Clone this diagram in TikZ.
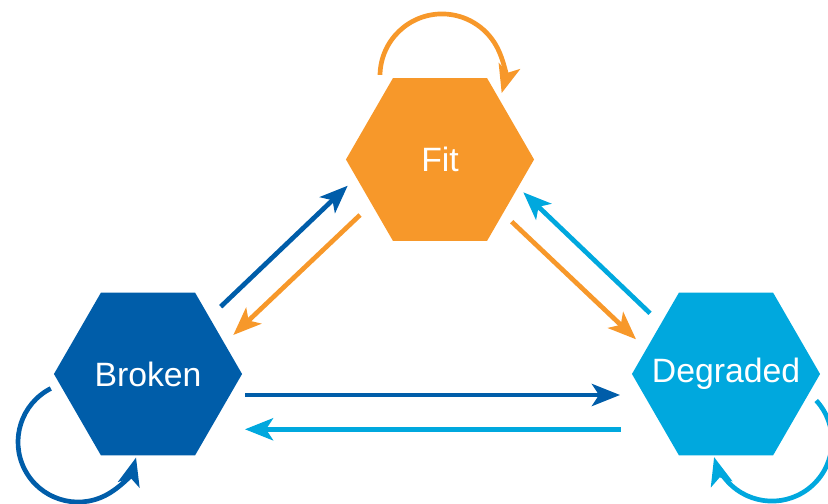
\documentclass[tikz,border=0pt]{standalone}
\usepackage{fontspec}
\setmainfont{Liberation Sans}
\usetikzlibrary{shapes.geometric,arrows.meta}

\definecolor{stOrange}{HTML}{F7982A}
\definecolor{stBlue}{HTML}{005DA9}
\definecolor{stCyan}{HTML}{00A8DE}

\begin{document}
\begin{tikzpicture}[x=0.01cm,y=-0.01cm,font=\fontsize{9.6}{11}\selectfont,
  hexstate/.style={regular polygon,regular polygon sides=6,minimum size=1.88cm,inner sep=0pt,outer sep=0pt,label={[text=white]center:#1}},
  flow/.style={line width=0.047cm,-{Stealth[length=0.28cm,width=0.22cm,inset=0.07cm]}}]
  \useasboundingbox (0,0) rectangle (828,504);
  \clip (0,0) rectangle (828,504);

  % states
  \node[hexstate=Fit,fill=stOrange] (fit) at (440,159.5) {};
  \node[hexstate=Broken,fill=stBlue] (broken) at (148,374) {};
  \node[hexstate=Degraded,fill=stCyan] (degraded) at (726,374) {};

  % Broken <-> Fit
  \draw[flow,stBlue] ([shift={(72.7,-67.3)}]broken.center) -- ([shift={(-92.3,26.2)}]fit.center);
  \draw[flow,stOrange] ([shift={(-80,55.5)}]fit.center) -- ([shift={(85.3,-39)}]broken.center);

  % Fit <-> Degraded
  \draw[flow,stCyan] ([shift={(-76,-60.7)}]degraded.center) -- ([shift={(83.3,32.8)}]fit.center);
  \draw[flow,stOrange] ([shift={(71.7,62.2)}]fit.center) -- ([shift={(-90,-34.7)}]degraded.center);

  % Broken <-> Degraded
  \draw[flow,stBlue] ([shift={(97,21)}]broken.center) -- ([shift={(-106,21)}]degraded.center);
  \draw[flow,stCyan] ([shift={(-105.3,55.3)}]degraded.center) -- ([shift={(97,55.3)}]broken.center);

  % self loops
  \draw[flow,stOrange] ([shift={(-60,-84.6)}]fit.center) arc[start angle=179,end angle=-16,radius=0.62cm];
  \draw[flow,stBlue] ([shift={(-97.2,14.5)}]broken.center) arc[start angle=117,end angle=345,radius=0.6cm];
  \draw[flow,stCyan] ([shift={(90.2,26.5)}]degraded.center) arc[start angle=42.5,end angle=-164.5,radius=0.6cm];
\end{tikzpicture}
\end{document}
